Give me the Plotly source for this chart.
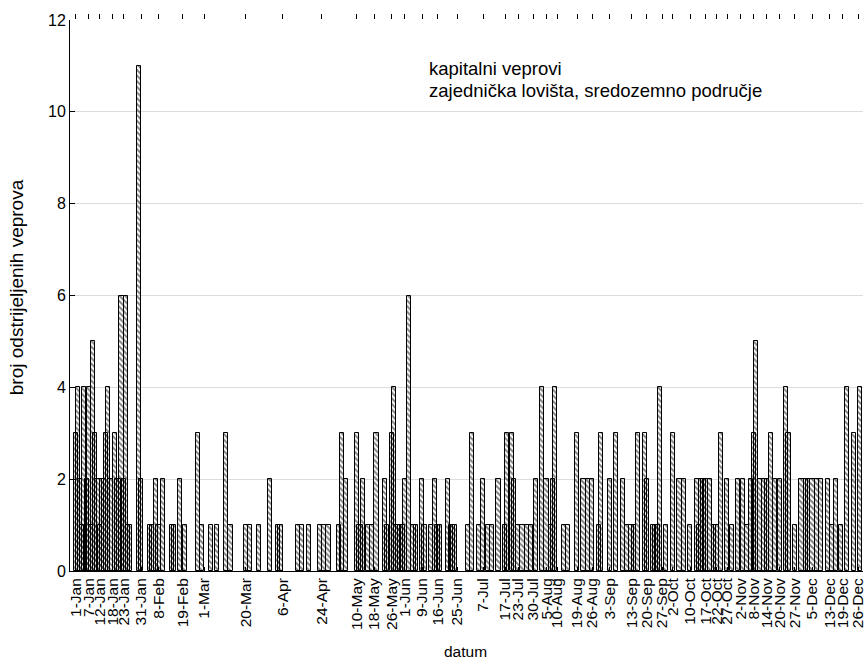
import datetime as dt
import plotly.graph_objects as go

YEAR = 2019
# day-of-year offsets (0 = 1-Jan) of hunting dates and number of boars shot
day_offsets = [0, 1, 2, 3, 4, 5, 6, 7, 8, 9, 10, 11, 12, 13, 14, 15, 16, 18, 19, 20,
               21, 22, 23, 24, 25, 29, 30, 34, 35, 37, 38, 40, 44, 45, 48, 50, 56, 58,
               62, 65, 69, 71, 78, 80, 84, 89, 93, 94, 102, 104, 107, 112, 114, 116,
               121, 122, 124, 129, 130, 131, 132, 134, 136, 138, 142, 143, 145, 146,
               147, 148, 149, 150, 151, 153, 155, 156, 159, 160, 163, 165, 166, 167,
               171, 172, 173, 174, 180, 182, 185, 187, 189, 191, 194, 197, 198, 200,
               201, 203, 205, 207, 209, 211, 214, 216, 218, 219, 220, 224, 226, 230,
               233, 235, 237, 240, 241, 245, 248, 251, 253, 255, 256, 258, 261, 262,
               265, 266, 267, 268, 271, 274, 277, 279, 282, 285, 286, 287, 288, 289,
               291, 293, 294, 296, 299, 301, 304, 306, 308, 310, 311, 312, 314, 316,
               317, 319, 321, 323, 326, 327, 330, 333, 335, 336, 338, 340, 342, 345,
               347, 349, 351, 354, 357, 360]
counts = [3, 4, 2, 1, 4, 2, 4, 1, 5, 3, 2, 1, 2, 2, 3, 4, 2, 3, 2, 2,
          6, 2, 6, 1, 1, 11, 2, 1, 1, 2, 1, 2, 1, 1, 2, 1, 3, 1,
          1, 1, 3, 1, 1, 1, 1, 2, 1, 1, 1, 1, 1, 1, 1, 1,
          1, 3, 2, 3, 1, 1, 2, 1, 1, 3, 2, 1, 3, 4,
          1, 1, 1, 1, 2, 6, 1, 1, 2, 1, 1, 2, 1, 1,
          2, 1, 1, 1, 1, 3, 1, 2, 1, 1, 2, 1, 3, 3,
          2, 1, 1, 1, 1, 2, 4, 2, 1, 2, 4, 1, 1, 3,
          2, 2, 2, 1, 3, 2, 3, 2, 1, 1, 1, 3, 3, 2,
          1, 1, 1, 4, 1, 3, 2, 2, 1, 2, 1, 2, 2, 2,
          2, 1, 1, 3, 2, 1, 2, 2, 1, 2, 3, 5, 2, 2,
          2, 3, 2, 2, 4, 3, 1, 2, 2, 2, 2, 2, 2, 2,
          1, 2, 1, 4, 3, 4]

tick_labels = ["1-Jan", "7-Jan", "12-Jan", "18-Jan", "23-Jan", "31-Jan", "8-Feb", "19-Feb",
               "1-Mar", "20-Mar", "6-Apr", "24-Apr", "10-May", "18-May", "26-May", "1-Jun",
               "9-Jun", "16-Jun", "25-Jun", "7-Jul", "17-Jul", "23-Jul", "30-Jul", "5-Aug",
               "10-Aug", "19-Aug", "26-Aug", "3-Sep", "13-Sep", "20-Sep", "27-Sep", "2-Oct",
               "10-Oct", "17-Oct", "22-Oct", "27-Oct", "2-Nov", "8-Nov", "14-Nov", "20-Nov",
               "27-Nov", "5-Dec", "13-Dec", "19-Dec", "26-Dec"]

start = dt.datetime(YEAR, 1, 1)
dates = [start + dt.timedelta(days=d) for d in day_offsets]
tick_vals = [dt.datetime.strptime(f"{t}-{YEAR}", "%d-%b-%Y") for t in tick_labels]

FONT = "Arial, Liberation Sans, sans-serif"
DAY_MS = 86400000

fig = go.Figure()
fig.add_trace(go.Bar(
    x=dates, y=counts,
    width=1.9 * DAY_MS,
    marker=dict(
        color="rgba(0,0,0,0)",
        line=dict(color="black", width=1),
        pattern=dict(shape="\\", fgcolor="black", bgcolor="rgba(0,0,0,0)",
                     size=4, solidity=0.5, fillmode="overlay"),
    ),
    showlegend=False,
    hoverinfo="x+y",
))
# dummy trace so the top (mirrored tick) axis is drawn
fig.add_trace(go.Scatter(x=[dates[0]], y=[None], xaxis="x2", mode="markers",
                         showlegend=False, hoverinfo="skip"))

xr = [start + dt.timedelta(days=-2.6), start + dt.timedelta(days=361.2)]

fig.update_layout(
    width=866, height=662,
    margin=dict(l=70, r=0, t=20, b=91),
    paper_bgcolor="white", plot_bgcolor="white",
    font=dict(family=FONT, color="black"),
    barmode="overlay",
    bargap=0,
    xaxis=dict(
        type="date", range=xr,
        tickmode="array", tickvals=tick_vals, ticktext=tick_labels,
        tickangle=-90, tickfont=dict(size=15.5, family=FONT, color="black"),
        ticklabeloverflow="allow",
        showgrid=False, zeroline=False,
        showline=True, linecolor="black", linewidth=1,
        ticks="inside", ticklen=4, tickcolor="black",
    ),
    xaxis2=dict(
        type="date", range=xr, overlaying="x", side="top", anchor="y",
        tickmode="array", tickvals=tick_vals, ticktext=[""] * len(tick_vals),
        showticklabels=False, showgrid=False, zeroline=False, showline=False,
        ticks="outside", ticklen=5, tickcolor="black",
    ),
    yaxis=dict(
        range=[0, 12], tickmode="array", tickvals=[0, 2, 4, 6, 8, 10, 12],
        tickfont=dict(size=16, family=FONT, color="black"),
        showgrid=True, gridcolor="#dcdcdc", gridwidth=1, zeroline=False,
        showline=True, linecolor="black", linewidth=1,
        ticks="inside", ticklen=5, tickcolor="black",
    ),
    annotations=[
        dict(text="kapitalni veprovi", xref="paper", yref="paper",
             x=(428 - 70) / 796, y=(571 - 68) / 551, xanchor="left", yanchor="middle",
             showarrow=False, font=dict(size=18.5, family=FONT, color="black")),
        dict(text="zajednička lovišta, sredozemno područje", xref="paper", yref="paper",
             x=(428 - 70) / 796, y=(571 - 90) / 551, xanchor="left", yanchor="middle",
             showarrow=False, font=dict(size=18.5, family=FONT, color="black")),
        dict(text="broj odstrijeljenih veprova", xref="paper", yref="paper",
             x=-(70 - 16) / 796, y=(571 - 287) / 551, xanchor="center", yanchor="middle",
             textangle=-90, showarrow=False,
             font=dict(size=19, family=FONT, color="black")),
        dict(text="datum", xref="paper", yref="paper",
             x=(467 - 70) / 796, y=-(651 - 571) / 551, xanchor="center", yanchor="middle",
             showarrow=False, font=dict(size=15.5, family=FONT, color="black")),
    ],
)

fig.write_html(
    "out.html",
    config={"displayModeBar": False},
    post_script=("document.documentElement.style.margin='0';"
                 "document.body.style.margin='0';"
                 "document.documentElement.style.overflow='hidden';"
                 "document.body.style.overflow='hidden';"),
)
